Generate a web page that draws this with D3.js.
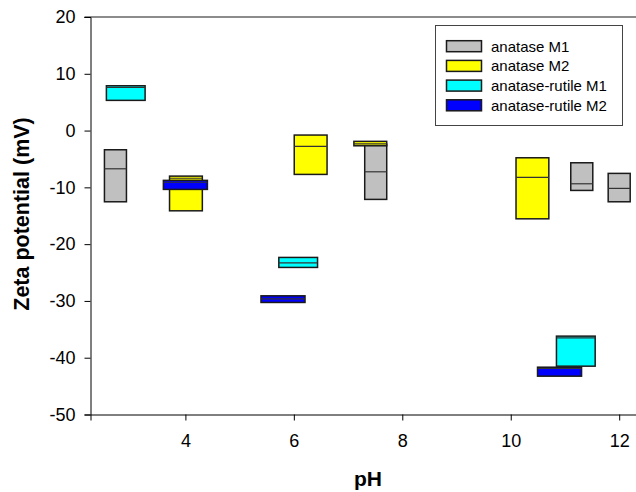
<!DOCTYPE html>
<html>
<head>
<meta charset="utf-8">
<script src="https://cdn.jsdelivr.net/npm/d3@7"></script>
<style>
  html, body { margin: 0; padding: 0; background: #fff; }
  svg { display: block; font-family: "Liberation Sans", Arial, sans-serif; }
</style>
</head>
<body>
<svg id="chart" width="636" height="492"></svg>
<script>
// Zeta potential vs pH: floating boxes (25th–75th percentile) with median line

const seriesNames = ["anatase M1", "anatase M2", "anatase-rutile M1", "anatase-rutile M2"];

// anatase M1
const m1PH   = [2.71, 7.51, 11.31, 12.0];
const m1Low  = [-12.54, -12.12, -10.54, -12.54];
const m1Med  = [-6.73, -7.26, -9.37, -10.18];
const m1High = [-3.38, -2.4, -5.67, -7.54];

// anatase M2
const m2PH   = [4.01, 6.31, 7.41, 10.40];
const m2Low  = [-14.13, -7.72, -2.68, -15.54];
const m2Med  = [-8.4, -2.78, -2.33, -8.25];
const m2High = [-8.02, -0.79, -1.90, -4.79];

// anatase-rutile M1
const arM1PH   = [2.90, 6.08, 11.20];
const arM1Low  = [5.32, -24.1, -41.49];
const arM1Med  = [7.6, -23.29, -36.5];
const arM1High = [7.89, -22.34, -36.2];

// anatase-rutile M2
const arM2PH   = [4.00, 5.80, 10.90];
const arM2Low  = [-10.36, -30.27, -43.25];
const arM2Med  = [-9.1, -29.63, -41.9];
const arM2High = [-8.77, -29.1, -41.67];

const xTicks = [4, 6, 8, 10, 12];
const yTicks = [-50, -40, -30, -20, -10, 0, 10, 20];

// drawing styles per series
const styles = [
  { fill: "#c0c0c0", width: 0.406 },
  { fill: "#ffff00", width: 0.605 },
  { fill: "#00ffff", width: 0.714 },
  { fill: "#0000ff", width: 0.812 }
];

const groups = [
  { pH: m1PH, low: m1Low, med: m1Med, high: m1High },
  { pH: m2PH, low: m2Low, med: m2Med, high: m2High },
  { pH: arM1PH, low: arM1Low, med: arM1Med, high: arM1High },
  { pH: arM2PH, low: arM2Low, med: arM2Med, high: arM2High }
];

const svg = d3.select("#chart");
const plotL = 90.5, plotR = 636, plotT = 17, plotB = 414.5;

const x = d3.scaleLinear().domain([2.25, 12.31]).range([plotL, plotR]);
const y = d3.scaleLinear().domain([-50, 20]).range([plotB, plotT]);

// boxes
groups.forEach((g, si) => {
  const st = styles[si];
  const rows = g.pH.map((p, i) => ({ p, low: g.low[i], med: g.med[i], high: g.high[i] }));
  const layer = svg.append("g");
  rows.forEach(r => {
    const x0 = x(r.p - st.width / 2), x1 = x(r.p + st.width / 2);
    layer.append("rect")
      .attr("x", x0).attr("y", y(r.high))
      .attr("width", x1 - x0).attr("height", y(r.low) - y(r.high))
      .attr("fill", st.fill).attr("stroke", "#1a1a1a").attr("stroke-width", 1.5);
    layer.append("line")
      .attr("x1", x0).attr("x2", x1)
      .attr("y1", y(r.med)).attr("y2", y(r.med))
      .attr("stroke", "#333").attr("stroke-width", 1.2);
  });
});

// top frame line
svg.append("line")
  .attr("x1", plotL - 6).attr("x2", plotR)
  .attr("y1", plotT).attr("y2", plotT)
  .attr("stroke", "#666").attr("stroke-width", 1.6);

// y axis
const yAxis = d3.axisLeft(y).tickValues(yTicks).tickSize(6).tickPadding(9).tickFormat(d3.format("d"));
const gy = svg.append("g").attr("transform", `translate(${plotL},0)`).call(yAxis);
gy.select(".domain").attr("stroke", "#000");
gy.selectAll(".tick line").attr("stroke", "#000");
gy.selectAll(".tick text")
  .attr("font-size", 18).attr("fill", "#000")
  .attr("font-family", "Liberation Sans, Arial, sans-serif")
  .text(d => d < 0 ? "-" + Math.abs(d) : d);

// x axis
const xAxis = d3.axisBottom(x).tickValues(xTicks).tickSize(6).tickPadding(14).tickFormat(d3.format("d"));
const gx = svg.append("g").attr("transform", `translate(0,${plotB})`).call(xAxis);
gx.select(".domain").attr("stroke", "#000");
gx.selectAll(".tick line").attr("stroke", "#000");
gx.selectAll(".tick text")
  .attr("font-size", 18).attr("fill", "#000")
  .attr("font-family", "Liberation Sans, Arial, sans-serif");

// axis titles
svg.append("text")
  .attr("x", 368).attr("y", 486)
  .attr("text-anchor", "middle")
  .attr("font-size", 21).attr("font-weight", "bold")
  .text("pH");

svg.append("text")
  .attr("transform", "translate(29,214) rotate(-90)")
  .attr("text-anchor", "middle")
  .attr("font-size", 21.5).attr("font-weight", "bold")
  .text("Zeta potential (mV)");

// legend
const lg = svg.append("g");
lg.append("rect")
  .attr("x", 435.5).attr("y", 25.5).attr("width", 187).attr("height", 100)
  .attr("fill", "#fff").attr("stroke", "#444").attr("stroke-width", 1);
seriesNames.forEach((name, i) => {
  const cy = 46.2 + i * 19.7;
  lg.append("rect")
    .attr("x", 446.5).attr("y", cy - 5.5).attr("width", 35).attr("height", 11)
    .attr("fill", styles[i].fill).attr("stroke", "#1a1a1a").attr("stroke-width", 1.5);
  lg.append("text")
    .attr("x", 491).attr("y", cy + 5.3)
    .attr("font-size", 15).attr("fill", "#000")
    .text(name);
});
</script>
</body>
</html>
